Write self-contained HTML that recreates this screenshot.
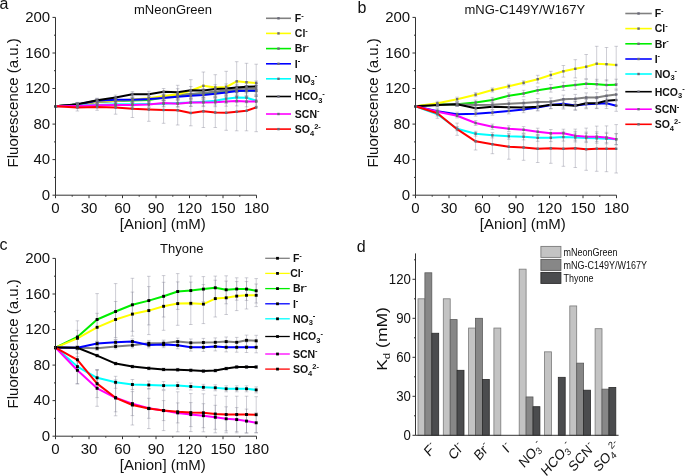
<!DOCTYPE html><html><head><meta charset="utf-8"><style>html,body{margin:0;padding:0;background:#fff;width:685px;height:476px;overflow:hidden}svg{display:block;will-change:transform}</style></head><body>
<svg width="685" height="476" viewBox="0 0 685 476">
<rect width="685" height="476" fill="#fff"/>
<text x="-0.5" y="8.8" font-size="16" font-family="Liberation Sans, sans-serif" fill="#111">a</text>
<text x="357.5" y="12.9" font-size="16" font-family="Liberation Sans, sans-serif" fill="#111">b</text>
<text x="-0.5" y="249.7" font-size="16" font-family="Liberation Sans, sans-serif" fill="#111">c</text>
<text x="356.8" y="251.7" font-size="16" font-family="Liberation Sans, sans-serif" fill="#111">d</text>
<text x="134" y="14" font-size="13" font-family="Liberation Sans, sans-serif" fill="#111">mNeonGreen</text>
<text x="464.5" y="14.3" font-size="13" font-family="Liberation Sans, sans-serif" fill="#111">mNG-C149Y/W167Y</text>
<text x="160" y="253.3" font-size="13" font-family="Liberation Sans, sans-serif" fill="#111">Thyone</text>
<g stroke="#77778a" stroke-opacity="0.36" stroke-width="1" fill="none">
<path d="M77.4 102.7V106.3M75.6 102.7h3.6M75.6 106.3h3.6"/>
<path d="M97.1 99.9V104.1M95.3 99.9h3.6M95.3 104.1h3.6"/>
<path d="M115.6 98.6V103.4M113.8 98.6h3.6M113.8 103.4h3.6"/>
<path d="M132.4 97.4V102.6M130.6 97.4h3.6M130.6 102.6h3.6"/>
<path d="M148.8 96.1V101.9M147.0 96.1h3.6M147.0 101.9h3.6"/>
<path d="M163.6 93.8V100.2M161.8 93.8h3.6M161.8 100.2h3.6"/>
<path d="M177.7 91.5V98.5M175.9 91.5h3.6M175.9 98.5h3.6"/>
<path d="M190.8 90.2V97.8M189.0 90.2h3.6M189.0 97.8h3.6"/>
<path d="M203.4 88.9V97.1M201.6 88.9h3.6M201.6 97.1h3.6"/>
<path d="M215.3 87.1V95.9M213.5 87.1h3.6M213.5 95.9h3.6"/>
<path d="M226.2 85.9V95.1M224.4 85.9h3.6M224.4 95.1h3.6"/>
<path d="M236.7 84.3V94.1M234.9 84.3h3.6M234.9 94.1h3.6"/>
<path d="M246.5 83.4V93.8M244.7 83.4h3.6M244.7 93.8h3.6"/>
<path d="M256.2 83.3V94.3M254.4 83.3h3.6M254.4 94.3h3.6"/>
<path d="M77.4 102.5V106.5M75.6 102.5h3.6M75.6 106.5h3.6"/>
<path d="M97.1 98.7V104.3M95.3 98.7h3.6M95.3 104.3h3.6"/>
<path d="M115.6 97.2V103.8M113.8 97.2h3.6M113.8 103.8h3.6"/>
<path d="M132.4 93.0V106.0M130.6 93.0h3.6M130.6 106.0h3.6"/>
<path d="M148.8 93.3V103.3M147.0 93.3h3.6M147.0 103.3h3.6"/>
<path d="M163.6 91.7V100.3M161.8 91.7h3.6M161.8 100.3h3.6"/>
<path d="M177.7 85.3V103.1M175.9 85.3h3.6M175.9 103.1h3.6"/>
<path d="M190.8 79.7V101.9M189.0 79.7h3.6M189.0 101.9h3.6"/>
<path d="M203.4 72.0V99.6M201.6 72.0h3.6M201.6 99.6h3.6"/>
<path d="M215.3 74.7V100.3M213.5 74.7h3.6M213.5 100.3h3.6"/>
<path d="M226.2 71.3V102.7M224.4 71.3h3.6M224.4 102.7h3.6"/>
<path d="M236.7 61.7V100.9M234.9 61.7h3.6M234.9 100.9h3.6"/>
<path d="M246.5 63.3V101.1M244.7 63.3h3.6M244.7 101.1h3.6"/>
<path d="M256.2 64.2V101.8M254.4 64.2h3.6M254.4 101.8h3.6"/>
<path d="M77.4 102.7V106.3M75.6 102.7h3.6M75.6 106.3h3.6"/>
<path d="M97.1 99.6V103.8M95.3 99.6h3.6M95.3 103.8h3.6"/>
<path d="M115.6 98.6V103.4M113.8 98.6h3.6M113.8 103.4h3.6"/>
<path d="M132.4 97.9V103.1M130.6 97.9h3.6M130.6 103.1h3.6"/>
<path d="M148.8 97.1V102.9M147.0 97.1h3.6M147.0 102.9h3.6"/>
<path d="M163.6 94.3V100.7M161.8 94.3h3.6M161.8 100.7h3.6"/>
<path d="M177.7 91.8V98.8M175.9 91.8h3.6M175.9 98.8h3.6"/>
<path d="M190.8 90.4V98.0M189.0 90.4h3.6M189.0 98.0h3.6"/>
<path d="M203.4 89.2V97.4M201.6 89.2h3.6M201.6 97.4h3.6"/>
<path d="M215.3 88.0V96.8M213.5 88.0h3.6M213.5 96.8h3.6"/>
<path d="M226.2 86.8V96.0M224.4 86.8h3.6M224.4 96.0h3.6"/>
<path d="M236.7 86.1V95.9M234.9 86.1h3.6M234.9 95.9h3.6"/>
<path d="M246.5 85.6V96.0M244.7 85.6h3.6M244.7 96.0h3.6"/>
<path d="M256.2 85.3V96.3M254.4 85.3h3.6M254.4 96.3h3.6"/>
<path d="M77.4 102.7V106.3M75.6 102.7h3.6M75.6 106.3h3.6"/>
<path d="M97.1 98.7V102.9M95.3 98.7h3.6M95.3 102.9h3.6"/>
<path d="M115.6 97.3V102.1M113.8 97.3h3.6M113.8 102.1h3.6"/>
<path d="M132.4 97.1V102.3M130.6 97.1h3.6M130.6 102.3h3.6"/>
<path d="M148.8 96.1V101.9M147.0 96.1h3.6M147.0 101.9h3.6"/>
<path d="M163.6 94.8V101.2M161.8 94.8h3.6M161.8 101.2h3.6"/>
<path d="M177.7 93.2V100.2M175.9 93.2h3.6M175.9 100.2h3.6"/>
<path d="M190.8 92.0V99.6M189.0 92.0h3.6M189.0 99.6h3.6"/>
<path d="M203.4 90.9V99.1M201.6 90.9h3.6M201.6 99.1h3.6"/>
<path d="M215.3 89.4V98.1M213.5 89.4h3.6M213.5 98.1h3.6"/>
<path d="M226.2 87.8V97.0M224.4 87.8h3.6M224.4 97.0h3.6"/>
<path d="M236.7 86.2V96.0M234.9 86.2h3.6M234.9 96.0h3.6"/>
<path d="M246.5 85.5V95.9M244.7 85.5h3.6M244.7 95.9h3.6"/>
<path d="M256.2 85.3V96.3M254.4 85.3h3.6M254.4 96.3h3.6"/>
<path d="M77.4 103.7V107.3M75.6 103.7h3.6M75.6 107.3h3.6"/>
<path d="M97.1 102.9V107.1M95.3 102.9h3.6M95.3 107.1h3.6"/>
<path d="M115.6 101.8V106.6M113.8 101.8h3.6M113.8 106.6h3.6"/>
<path d="M132.4 101.6V106.8M130.6 101.6h3.6M130.6 106.8h3.6"/>
<path d="M148.8 101.1V106.9M147.0 101.1h3.6M147.0 106.9h3.6"/>
<path d="M163.6 100.5V106.9M161.8 100.5h3.6M161.8 106.9h3.6"/>
<path d="M177.7 99.5V106.5M175.9 99.5h3.6M175.9 106.5h3.6"/>
<path d="M190.8 98.7V106.3M189.0 98.7h3.6M189.0 106.3h3.6"/>
<path d="M203.4 97.6V105.8M201.6 97.6h3.6M201.6 105.8h3.6"/>
<path d="M215.3 96.3V105.1M213.5 96.3h3.6M213.5 105.1h3.6"/>
<path d="M226.2 94.1V103.3M224.4 94.1h3.6M224.4 103.3h3.6"/>
<path d="M236.7 92.5V102.3M234.9 92.5h3.6M234.9 102.3h3.6"/>
<path d="M246.5 92.5V102.9M244.7 92.5h3.6M244.7 102.9h3.6"/>
<path d="M256.2 95.2V106.2M254.4 95.2h3.6M254.4 106.2h3.6"/>
<path d="M77.4 102.4V106.0M75.6 102.4h3.6M75.6 106.0h3.6"/>
<path d="M97.1 98.2V102.4M95.3 98.2h3.6M95.3 102.4h3.6"/>
<path d="M115.6 95.1V99.9M113.8 95.1h3.6M113.8 99.9h3.6"/>
<path d="M132.4 91.6V96.8M130.6 91.6h3.6M130.6 96.8h3.6"/>
<path d="M148.8 91.3V97.1M147.0 91.3h3.6M147.0 97.1h3.6"/>
<path d="M163.6 88.5V94.9M161.8 88.5h3.6M161.8 94.9h3.6"/>
<path d="M177.7 88.7V95.7M175.9 88.7h3.6M175.9 95.7h3.6"/>
<path d="M190.8 86.5V94.1M189.0 86.5h3.6M189.0 94.1h3.6"/>
<path d="M203.4 86.4V94.6M201.6 86.4h3.6M201.6 94.6h3.6"/>
<path d="M215.3 84.7V93.5M213.5 84.7h3.6M213.5 93.5h3.6"/>
<path d="M226.2 83.9V93.1M224.4 83.9h3.6M224.4 93.1h3.6"/>
<path d="M236.7 82.6V92.4M234.9 82.6h3.6M234.9 92.4h3.6"/>
<path d="M246.5 81.5V91.9M244.7 81.5h3.6M244.7 91.9h3.6"/>
<path d="M256.2 81.0V92.0M254.4 81.0h3.6M254.4 92.0h3.6"/>
<path d="M77.4 104.2V107.8M75.6 104.2h3.6M75.6 107.8h3.6"/>
<path d="M97.1 103.2V107.4M95.3 103.2h3.6M95.3 107.4h3.6"/>
<path d="M115.6 102.6V107.4M113.8 102.6h3.6M113.8 107.4h3.6"/>
<path d="M132.4 102.4V107.6M130.6 102.4h3.6M130.6 107.6h3.6"/>
<path d="M148.8 101.6V107.4M147.0 101.6h3.6M147.0 107.4h3.6"/>
<path d="M163.6 99.8V106.2M161.8 99.8h3.6M161.8 106.2h3.6"/>
<path d="M177.7 100.2V107.2M175.9 100.2h3.6M175.9 107.2h3.6"/>
<path d="M190.8 98.7V106.3M189.0 98.7h3.6M189.0 106.3h3.6"/>
<path d="M203.4 98.4V106.6M201.6 98.4h3.6M201.6 106.6h3.6"/>
<path d="M215.3 97.9V106.7M213.5 97.9h3.6M213.5 106.7h3.6"/>
<path d="M226.2 97.0V106.2M224.4 97.0h3.6M224.4 106.2h3.6"/>
<path d="M236.7 96.1V105.9M234.9 96.1h3.6M234.9 105.9h3.6"/>
<path d="M246.5 96.4V106.8M244.7 96.4h3.6M244.7 106.8h3.6"/>
<path d="M256.2 96.1V107.1M254.4 96.1h3.6M254.4 107.1h3.6"/>
<path d="M77.4 104.0V111.0M75.6 104.0h3.6M75.6 111.0h3.6"/>
<path d="M97.1 103.7V110.3M95.3 103.7h3.6M95.3 110.3h3.6"/>
<path d="M115.6 100.8V114.2M113.8 100.8h3.6M113.8 114.2h3.6"/>
<path d="M132.4 99.9V117.5M130.6 99.9h3.6M130.6 117.5h3.6"/>
<path d="M148.8 97.7V121.3M147.0 97.7h3.6M147.0 121.3h3.6"/>
<path d="M163.6 96.7V123.3M161.8 96.7h3.6M161.8 123.3h3.6"/>
<path d="M177.7 95.6V125.0M175.9 95.6h3.6M175.9 125.0h3.6"/>
<path d="M190.8 100.2V125.8M189.0 100.2h3.6M189.0 125.8h3.6"/>
<path d="M203.4 95.1V127.5M201.6 95.1h3.6M201.6 127.5h3.6"/>
<path d="M215.3 97.5V127.5M213.5 97.5h3.6M213.5 127.5h3.6"/>
<path d="M226.2 95.3V130.3M224.4 95.3h3.6M224.4 130.3h3.6"/>
<path d="M236.7 92.6V130.8M234.9 92.6h3.6M234.9 130.8h3.6"/>
<path d="M246.5 90.8V130.8M244.7 90.8h3.6M244.7 130.8h3.6"/>
<path d="M256.2 83.3V131.7M254.4 83.3h3.6M254.4 131.7h3.6"/>
</g>
<polyline points="55.5,106.3 77.4,104.5 97.1,101.7 115.6,101.0 132.4,100.5 148.8,100.0 163.6,97.5 177.7,95.3 190.8,94.2 203.4,93.3 215.3,92.4 226.2,91.4 236.7,91.0 246.5,90.8 256.2,90.8" fill="none" stroke="#00ee00" stroke-width="2" stroke-linejoin="round"/>
<polyline points="55.5,106.3 77.4,104.5 97.1,102.0 115.6,101.0 132.4,100.0 148.8,99.0 163.6,97.0 177.7,95.0 190.8,94.0 203.4,93.0 215.3,91.5 226.2,90.5 236.7,89.2 246.5,88.6 256.2,88.8" fill="none" stroke="#808080" stroke-width="2" stroke-linejoin="round"/>
<polyline points="55.5,106.3 77.4,104.5 97.1,101.5 115.6,100.5 132.4,99.5 148.8,98.3 163.6,96.0 177.7,94.2 190.8,90.8 203.4,85.8 215.3,87.5 226.2,87.0 236.7,81.3 246.5,82.2 256.2,83.0" fill="none" stroke="#ffff00" stroke-width="2" stroke-linejoin="round"/>
<polyline points="55.5,106.3 77.4,104.5 97.1,100.8 115.6,99.7 132.4,99.7 148.8,99.0 163.6,98.0 177.7,96.7 190.8,95.8 203.4,95.0 215.3,93.8 226.2,92.4 236.7,91.1 246.5,90.7 256.2,90.8" fill="none" stroke="#0000ff" stroke-width="2" stroke-linejoin="round"/>
<polyline points="55.5,106.3 77.4,105.5 97.1,105.0 115.6,104.2 132.4,104.2 148.8,104.0 163.6,103.7 177.7,103.0 190.8,102.5 203.4,101.7 215.3,100.7 226.2,98.7 236.7,97.4 246.5,97.7 256.2,100.7" fill="none" stroke="#00ffff" stroke-width="2" stroke-linejoin="round"/>
<polyline points="55.5,106.3 77.4,104.2 97.1,100.3 115.6,97.5 132.4,94.2 148.8,94.2 163.6,91.7 177.7,92.2 190.8,90.3 203.4,90.5 215.3,89.1 226.2,88.5 236.7,87.5 246.5,86.7 256.2,86.5" fill="none" stroke="#000000" stroke-width="2" stroke-linejoin="round"/>
<polyline points="55.5,106.3 77.4,106.0 97.1,105.3 115.6,105.0 132.4,105.0 148.8,104.5 163.6,103.0 177.7,103.7 190.8,102.5 203.4,102.5 215.3,102.3 226.2,101.6 236.7,101.0 246.5,101.6 256.2,101.6" fill="none" stroke="#ff00ff" stroke-width="2" stroke-linejoin="round"/>
<polyline points="55.5,106.3 77.4,107.5 97.1,107.0 115.6,107.5 132.4,108.7 148.8,109.5 163.6,110.0 177.7,110.3 190.8,113.0 203.4,111.3 215.3,112.5 226.2,112.8 236.7,111.7 246.5,110.8 256.2,107.5" fill="none" stroke="#ff0000" stroke-width="2" stroke-linejoin="round"/>
<g fill="#6a6a78">
<rect x="54.30" y="105.10" width="2.4" height="2.4"/>
<rect x="76.20" y="103.30" width="2.4" height="2.4"/>
<rect x="95.90" y="100.80" width="2.4" height="2.4"/>
<rect x="114.40" y="99.80" width="2.4" height="2.4"/>
<rect x="131.20" y="98.80" width="2.4" height="2.4"/>
<rect x="147.60" y="97.80" width="2.4" height="2.4"/>
<rect x="162.40" y="95.80" width="2.4" height="2.4"/>
<rect x="176.50" y="93.80" width="2.4" height="2.4"/>
<rect x="189.60" y="92.80" width="2.4" height="2.4"/>
<rect x="202.20" y="91.80" width="2.4" height="2.4"/>
<rect x="214.10" y="90.30" width="2.4" height="2.4"/>
<rect x="225.00" y="89.30" width="2.4" height="2.4"/>
<rect x="235.50" y="88.00" width="2.4" height="2.4"/>
<rect x="245.30" y="87.40" width="2.4" height="2.4"/>
<rect x="255.00" y="87.60" width="2.4" height="2.4"/>
<rect x="54.30" y="105.10" width="2.4" height="2.4"/>
<rect x="76.20" y="103.30" width="2.4" height="2.4"/>
<rect x="95.90" y="100.30" width="2.4" height="2.4"/>
<rect x="114.40" y="99.30" width="2.4" height="2.4"/>
<rect x="131.20" y="98.30" width="2.4" height="2.4"/>
<rect x="147.60" y="97.10" width="2.4" height="2.4"/>
<rect x="162.40" y="94.80" width="2.4" height="2.4"/>
<rect x="176.50" y="93.00" width="2.4" height="2.4"/>
<rect x="189.60" y="89.60" width="2.4" height="2.4"/>
<rect x="202.20" y="84.60" width="2.4" height="2.4"/>
<rect x="214.10" y="86.30" width="2.4" height="2.4"/>
<rect x="225.00" y="85.80" width="2.4" height="2.4"/>
<rect x="235.50" y="80.10" width="2.4" height="2.4"/>
<rect x="245.30" y="81.00" width="2.4" height="2.4"/>
<rect x="255.00" y="81.80" width="2.4" height="2.4"/>
<rect x="54.30" y="105.10" width="2.4" height="2.4"/>
<rect x="76.20" y="103.30" width="2.4" height="2.4"/>
<rect x="95.90" y="100.50" width="2.4" height="2.4"/>
<rect x="114.40" y="99.80" width="2.4" height="2.4"/>
<rect x="131.20" y="99.30" width="2.4" height="2.4"/>
<rect x="147.60" y="98.80" width="2.4" height="2.4"/>
<rect x="162.40" y="96.30" width="2.4" height="2.4"/>
<rect x="176.50" y="94.10" width="2.4" height="2.4"/>
<rect x="189.60" y="93.00" width="2.4" height="2.4"/>
<rect x="202.20" y="92.10" width="2.4" height="2.4"/>
<rect x="214.10" y="91.20" width="2.4" height="2.4"/>
<rect x="225.00" y="90.20" width="2.4" height="2.4"/>
<rect x="235.50" y="89.80" width="2.4" height="2.4"/>
<rect x="245.30" y="89.60" width="2.4" height="2.4"/>
<rect x="255.00" y="89.60" width="2.4" height="2.4"/>
<rect x="54.30" y="105.10" width="2.4" height="2.4"/>
<rect x="76.20" y="103.30" width="2.4" height="2.4"/>
<rect x="95.90" y="99.60" width="2.4" height="2.4"/>
<rect x="114.40" y="98.50" width="2.4" height="2.4"/>
<rect x="131.20" y="98.50" width="2.4" height="2.4"/>
<rect x="147.60" y="97.80" width="2.4" height="2.4"/>
<rect x="162.40" y="96.80" width="2.4" height="2.4"/>
<rect x="176.50" y="95.50" width="2.4" height="2.4"/>
<rect x="189.60" y="94.60" width="2.4" height="2.4"/>
<rect x="202.20" y="93.80" width="2.4" height="2.4"/>
<rect x="214.10" y="92.55" width="2.4" height="2.4"/>
<rect x="225.00" y="91.20" width="2.4" height="2.4"/>
<rect x="235.50" y="89.90" width="2.4" height="2.4"/>
<rect x="245.30" y="89.50" width="2.4" height="2.4"/>
<rect x="255.00" y="89.60" width="2.4" height="2.4"/>
<rect x="54.30" y="105.10" width="2.4" height="2.4"/>
<rect x="76.20" y="104.30" width="2.4" height="2.4"/>
<rect x="95.90" y="103.80" width="2.4" height="2.4"/>
<rect x="114.40" y="103.00" width="2.4" height="2.4"/>
<rect x="131.20" y="103.00" width="2.4" height="2.4"/>
<rect x="147.60" y="102.80" width="2.4" height="2.4"/>
<rect x="162.40" y="102.50" width="2.4" height="2.4"/>
<rect x="176.50" y="101.80" width="2.4" height="2.4"/>
<rect x="189.60" y="101.30" width="2.4" height="2.4"/>
<rect x="202.20" y="100.50" width="2.4" height="2.4"/>
<rect x="214.10" y="99.50" width="2.4" height="2.4"/>
<rect x="225.00" y="97.50" width="2.4" height="2.4"/>
<rect x="235.50" y="96.20" width="2.4" height="2.4"/>
<rect x="245.30" y="96.50" width="2.4" height="2.4"/>
<rect x="255.00" y="99.50" width="2.4" height="2.4"/>
<rect x="54.30" y="105.10" width="2.4" height="2.4"/>
<rect x="76.20" y="103.00" width="2.4" height="2.4"/>
<rect x="95.90" y="99.10" width="2.4" height="2.4"/>
<rect x="114.40" y="96.30" width="2.4" height="2.4"/>
<rect x="131.20" y="93.00" width="2.4" height="2.4"/>
<rect x="147.60" y="93.00" width="2.4" height="2.4"/>
<rect x="162.40" y="90.50" width="2.4" height="2.4"/>
<rect x="176.50" y="91.00" width="2.4" height="2.4"/>
<rect x="189.60" y="89.10" width="2.4" height="2.4"/>
<rect x="202.20" y="89.30" width="2.4" height="2.4"/>
<rect x="214.10" y="87.90" width="2.4" height="2.4"/>
<rect x="225.00" y="87.30" width="2.4" height="2.4"/>
<rect x="235.50" y="86.30" width="2.4" height="2.4"/>
<rect x="245.30" y="85.50" width="2.4" height="2.4"/>
<rect x="255.00" y="85.30" width="2.4" height="2.4"/>
<rect x="54.30" y="105.10" width="2.4" height="2.4"/>
<rect x="76.20" y="104.80" width="2.4" height="2.4"/>
<rect x="95.90" y="104.10" width="2.4" height="2.4"/>
<rect x="114.40" y="103.80" width="2.4" height="2.4"/>
<rect x="131.20" y="103.80" width="2.4" height="2.4"/>
<rect x="147.60" y="103.30" width="2.4" height="2.4"/>
<rect x="162.40" y="101.80" width="2.4" height="2.4"/>
<rect x="176.50" y="102.50" width="2.4" height="2.4"/>
<rect x="189.60" y="101.30" width="2.4" height="2.4"/>
<rect x="202.20" y="101.30" width="2.4" height="2.4"/>
<rect x="214.10" y="101.10" width="2.4" height="2.4"/>
<rect x="225.00" y="100.40" width="2.4" height="2.4"/>
<rect x="235.50" y="99.80" width="2.4" height="2.4"/>
<rect x="245.30" y="100.40" width="2.4" height="2.4"/>
<rect x="255.00" y="100.40" width="2.4" height="2.4"/>
<rect x="54.30" y="105.10" width="2.4" height="2.4"/>
<rect x="76.20" y="106.30" width="2.4" height="2.4"/>
<rect x="95.90" y="105.80" width="2.4" height="2.4"/>
<rect x="114.40" y="106.30" width="2.4" height="2.4"/>
<rect x="131.20" y="107.50" width="2.4" height="2.4"/>
<rect x="147.60" y="108.30" width="2.4" height="2.4"/>
<rect x="162.40" y="108.80" width="2.4" height="2.4"/>
<rect x="176.50" y="109.10" width="2.4" height="2.4"/>
<rect x="189.60" y="111.80" width="2.4" height="2.4"/>
<rect x="202.20" y="110.10" width="2.4" height="2.4"/>
<rect x="214.10" y="111.30" width="2.4" height="2.4"/>
<rect x="225.00" y="111.60" width="2.4" height="2.4"/>
<rect x="235.50" y="110.50" width="2.4" height="2.4"/>
<rect x="245.30" y="109.60" width="2.4" height="2.4"/>
<rect x="255.00" y="106.30" width="2.4" height="2.4"/>
</g>
<path d="M55.5 17.4V195.2H256.5" fill="none" stroke="#333" stroke-width="1"/>
<path d="M52.5 195.2H55.5 M54.0 177.4H55.5 M52.5 159.6H55.5 M54.0 141.9H55.5 M52.5 124.1H55.5 M54.0 106.3H55.5 M52.5 88.5H55.5 M54.0 70.7H55.5 M52.5 53.0H55.5 M54.0 35.2H55.5 M52.5 17.4H55.5 M55.5 195.2V198.2 M72.2 195.2V196.7 M89.0 195.2V198.2 M105.8 195.2V196.7 M122.5 195.2V198.2 M139.2 195.2V196.7 M156.0 195.2V198.2 M172.8 195.2V196.7 M189.5 195.2V198.2 M206.2 195.2V196.7 M223.0 195.2V198.2 M239.8 195.2V196.7 M256.5 195.2V198.2" stroke="#333" stroke-width="1"/>
<text transform="translate(50.2,199.8) scale(1,1)" text-anchor="end" font-size="15" font-family="Liberation Sans, sans-serif" fill="#111">0</text>
<text transform="translate(50.2,164.3) scale(1,1)" text-anchor="end" font-size="15" font-family="Liberation Sans, sans-serif" fill="#111">40</text>
<text transform="translate(50.2,128.7) scale(1,1)" text-anchor="end" font-size="15" font-family="Liberation Sans, sans-serif" fill="#111">80</text>
<text transform="translate(50.2,93.2) scale(1,1)" text-anchor="end" font-size="15" font-family="Liberation Sans, sans-serif" fill="#111">120</text>
<text transform="translate(50.2,57.6) scale(1,1)" text-anchor="end" font-size="15" font-family="Liberation Sans, sans-serif" fill="#111">160</text>
<text transform="translate(50.2,22.0) scale(1,1)" text-anchor="end" font-size="15" font-family="Liberation Sans, sans-serif" fill="#111">200</text>
<text transform="translate(55.5,212.8) scale(1,1)" text-anchor="middle" font-size="15" font-family="Liberation Sans, sans-serif" fill="#111">0</text>
<text transform="translate(89.0,212.8) scale(1,1)" text-anchor="middle" font-size="15" font-family="Liberation Sans, sans-serif" fill="#111">30</text>
<text transform="translate(122.5,212.8) scale(1,1)" text-anchor="middle" font-size="15" font-family="Liberation Sans, sans-serif" fill="#111">60</text>
<text transform="translate(156.0,212.8) scale(1,1)" text-anchor="middle" font-size="15" font-family="Liberation Sans, sans-serif" fill="#111">90</text>
<text transform="translate(189.5,212.8) scale(1,1)" text-anchor="middle" font-size="15" font-family="Liberation Sans, sans-serif" fill="#111">120</text>
<text transform="translate(223.0,212.8) scale(1,1)" text-anchor="middle" font-size="15" font-family="Liberation Sans, sans-serif" fill="#111">150</text>
<text transform="translate(256.5,212.8) scale(1,1)" text-anchor="middle" font-size="15" font-family="Liberation Sans, sans-serif" fill="#111">180</text>
<text x="162.8" y="228.8" text-anchor="middle" font-size="15" font-family="Liberation Sans, sans-serif" fill="#111">[Anion] (mM)</text>
<text transform="translate(17.6,102.8) rotate(-90)" text-anchor="middle" font-size="15" font-family="Liberation Sans, sans-serif" fill="#111">Fluorescence (a.u.)</text>
<path d="M266 18.3H291" stroke="#808080" stroke-width="1.6"/>
<rect x="277.30" y="17.10" width="2.4" height="2.4" fill="#6a6a78"/>
<text x="294.8" y="22.1" font-size="10.5" font-weight="bold" font-family="Liberation Sans, sans-serif" fill="#111">F<tspan font-size="7.5" dy="-4.4">-</tspan></text>
<path d="M266 33.4H291" stroke="#ffff00" stroke-width="1.6"/>
<rect x="277.30" y="32.20" width="2.4" height="2.4" fill="#6a6a78"/>
<text x="294.8" y="37.2" font-size="10.5" font-weight="bold" font-family="Liberation Sans, sans-serif" fill="#111">Cl<tspan font-size="7.5" dy="-4.4">-</tspan></text>
<path d="M266 48.6H291" stroke="#00ee00" stroke-width="1.6"/>
<rect x="277.30" y="47.40" width="2.4" height="2.4" fill="#6a6a78"/>
<text x="294.8" y="52.4" font-size="10.5" font-weight="bold" font-family="Liberation Sans, sans-serif" fill="#111">Br<tspan font-size="7.5" dy="-4.4">-</tspan></text>
<path d="M266 63.8H291" stroke="#0000ff" stroke-width="1.6"/>
<rect x="277.30" y="62.60" width="2.4" height="2.4" fill="#6a6a78"/>
<text x="294.8" y="67.6" font-size="10.5" font-weight="bold" font-family="Liberation Sans, sans-serif" fill="#111">I<tspan font-size="7.5" dy="-4.4">-</tspan></text>
<path d="M266 78.8H291" stroke="#00ffff" stroke-width="1.6"/>
<rect x="277.30" y="77.60" width="2.4" height="2.4" fill="#6a6a78"/>
<text x="294.8" y="82.6" font-size="10.5" font-weight="bold" font-family="Liberation Sans, sans-serif" fill="#111">NO<tspan font-size="7.5" dy="2.6">3</tspan><tspan font-size="7.5" dy="-7">-</tspan></text>
<path d="M266 96.5H291" stroke="#000000" stroke-width="1.6"/>
<rect x="277.30" y="95.30" width="2.4" height="2.4" fill="#6a6a78"/>
<text x="294.8" y="100.3" font-size="10.5" font-weight="bold" font-family="Liberation Sans, sans-serif" fill="#111">HCO<tspan font-size="7.5" dy="2.6">3</tspan><tspan font-size="7.5" dy="-7">-</tspan></text>
<path d="M266 114.0H291" stroke="#ff00ff" stroke-width="1.6"/>
<rect x="277.30" y="112.80" width="2.4" height="2.4" fill="#6a6a78"/>
<text x="294.8" y="117.8" font-size="10.5" font-weight="bold" font-family="Liberation Sans, sans-serif" fill="#111">SCN<tspan font-size="7.5" dy="-4.4">-</tspan></text>
<path d="M266 129.1H291" stroke="#ff0000" stroke-width="1.6"/>
<rect x="277.30" y="127.90" width="2.4" height="2.4" fill="#6a6a78"/>
<text x="294.8" y="132.9" font-size="10.5" font-weight="bold" font-family="Liberation Sans, sans-serif" fill="#111">SO<tspan font-size="7.5" dy="2.6">4</tspan><tspan font-size="7.5" dy="-7">2-</tspan></text>
<g stroke="#77778a" stroke-opacity="0.36" stroke-width="1" fill="none">
<path d="M437.4 103.2V106.8M435.6 103.2h3.6M435.6 106.8h3.6"/>
<path d="M457.1 102.1V106.3M455.3 102.1h3.6M455.3 106.3h3.6"/>
<path d="M475.6 102.6V107.4M473.8 102.6h3.6M473.8 107.4h3.6"/>
<path d="M492.4 102.1V107.3M490.6 102.1h3.6M490.6 107.3h3.6"/>
<path d="M508.8 100.8V106.6M507.0 100.8h3.6M507.0 106.6h3.6"/>
<path d="M523.6 99.7V106.1M521.8 99.7h3.6M521.8 106.1h3.6"/>
<path d="M537.7 98.5V105.5M535.9 98.5h3.6M535.9 105.5h3.6"/>
<path d="M550.8 97.9V105.5M549.0 97.9h3.6M549.0 105.5h3.6"/>
<path d="M563.4 95.1V103.3M561.6 95.1h3.6M561.6 103.3h3.6"/>
<path d="M575.3 94.4V103.2M573.5 94.4h3.6M573.5 103.2h3.6"/>
<path d="M586.2 92.9V102.1M584.4 92.9h3.6M584.4 102.1h3.6"/>
<path d="M596.7 92.6V102.4M594.9 92.6h3.6M594.9 102.4h3.6"/>
<path d="M606.5 90.6V101.0M604.7 90.6h3.6M604.7 101.0h3.6"/>
<path d="M616.2 89.0V100.0M614.4 89.0h3.6M614.4 100.0h3.6"/>
<path d="M437.4 101.3V105.3M435.6 101.3h3.6M435.6 105.3h3.6"/>
<path d="M457.1 97.2V101.2M455.3 97.2h3.6M455.3 101.2h3.6"/>
<path d="M475.6 92.7V96.7M473.8 92.7h3.6M473.8 96.7h3.6"/>
<path d="M492.4 88.0V92.0M490.6 88.0h3.6M490.6 92.0h3.6"/>
<path d="M508.8 84.3V88.3M507.0 84.3h3.6M507.0 88.3h3.6"/>
<path d="M523.6 80.8V84.8M521.8 80.8h3.6M521.8 84.8h3.6"/>
<path d="M537.7 75.3V83.1M535.9 75.3h3.6M535.9 83.1h3.6"/>
<path d="M550.8 71.3V78.7M549.0 71.3h3.6M549.0 78.7h3.6"/>
<path d="M563.4 65.5V77.1M561.6 65.5h3.6M561.6 77.1h3.6"/>
<path d="M575.3 59.7V77.9M573.5 59.7h3.6M573.5 77.9h3.6"/>
<path d="M586.2 54.5V78.9M584.4 54.5h3.6M584.4 78.9h3.6"/>
<path d="M596.7 46.3V81.1M594.9 46.3h3.6M594.9 81.1h3.6"/>
<path d="M606.5 47.5V80.9M604.7 47.5h3.6M604.7 80.9h3.6"/>
<path d="M616.2 46.3V83.7M614.4 46.3h3.6M614.4 83.7h3.6"/>
<path d="M437.4 102.7V106.3M435.6 102.7h3.6M435.6 106.3h3.6"/>
<path d="M457.1 102.1V106.3M455.3 102.1h3.6M455.3 106.3h3.6"/>
<path d="M475.6 100.1V104.9M473.8 100.1h3.6M473.8 104.9h3.6"/>
<path d="M492.4 97.4V102.6M490.6 97.4h3.6M490.6 102.6h3.6"/>
<path d="M508.8 92.9V98.7M507.0 92.9h3.6M507.0 98.7h3.6"/>
<path d="M523.6 90.3V96.7M521.8 90.3h3.6M521.8 96.7h3.6"/>
<path d="M537.7 86.8V93.8M535.9 86.8h3.6M535.9 93.8h3.6"/>
<path d="M550.8 84.5V92.1M549.0 84.5h3.6M549.0 92.1h3.6"/>
<path d="M563.4 82.2V90.4M561.6 82.2h3.6M561.6 90.4h3.6"/>
<path d="M575.3 80.6V89.4M573.5 80.6h3.6M573.5 89.4h3.6"/>
<path d="M586.2 79.2V88.4M584.4 79.2h3.6M584.4 88.4h3.6"/>
<path d="M596.7 79.3V89.1M594.9 79.3h3.6M594.9 89.1h3.6"/>
<path d="M606.5 79.8V90.2M604.7 79.8h3.6M604.7 90.2h3.6"/>
<path d="M616.2 79.2V90.2M614.4 79.2h3.6M614.4 90.2h3.6"/>
<path d="M437.4 109.4V113.0M435.6 109.4h3.6M435.6 113.0h3.6"/>
<path d="M457.1 112.2V116.4M455.3 112.2h3.6M455.3 116.4h3.6"/>
<path d="M475.6 111.3V116.1M473.8 111.3h3.6M473.8 116.1h3.6"/>
<path d="M492.4 110.0V115.2M490.6 110.0h3.6M490.6 115.2h3.6"/>
<path d="M508.8 108.1V113.9M507.0 108.1h3.6M507.0 113.9h3.6"/>
<path d="M523.6 106.3V112.7M521.8 106.3h3.6M521.8 112.7h3.6"/>
<path d="M537.7 104.0V111.0M535.9 104.0h3.6M535.9 111.0h3.6"/>
<path d="M550.8 101.2V108.8M549.0 101.2h3.6M549.0 108.8h3.6"/>
<path d="M563.4 99.7V107.9M561.6 99.7h3.6M561.6 107.9h3.6"/>
<path d="M575.3 101.1V109.9M573.5 101.1h3.6M573.5 109.9h3.6"/>
<path d="M586.2 99.6V108.8M584.4 99.6h3.6M584.4 108.8h3.6"/>
<path d="M596.7 98.8V108.6M594.9 98.8h3.6M594.9 108.6h3.6"/>
<path d="M606.5 98.1V108.5M604.7 98.1h3.6M604.7 108.5h3.6"/>
<path d="M616.2 100.3V111.3M614.4 100.3h3.6M614.4 111.3h3.6"/>
<path d="M437.4 112.4V116.0M435.6 112.4h3.6M435.6 116.0h3.6"/>
<path d="M457.1 126.6V130.8M455.3 126.6h3.6M455.3 130.8h3.6"/>
<path d="M475.6 131.3V136.1M473.8 131.3h3.6M473.8 136.1h3.6"/>
<path d="M492.4 132.7V137.9M490.6 132.7h3.6M490.6 137.9h3.6"/>
<path d="M508.8 133.4V139.2M507.0 133.4h3.6M507.0 139.2h3.6"/>
<path d="M523.6 133.5V139.9M521.8 133.5h3.6M521.8 139.9h3.6"/>
<path d="M537.7 134.3V141.3M535.9 134.3h3.6M535.9 141.3h3.6"/>
<path d="M550.8 134.0V141.6M549.0 134.0h3.6M549.0 141.6h3.6"/>
<path d="M563.4 132.9V141.1M561.6 132.9h3.6M561.6 141.1h3.6"/>
<path d="M575.3 133.1V141.9M573.5 133.1h3.6M573.5 141.9h3.6"/>
<path d="M586.2 133.4V142.6M584.4 133.4h3.6M584.4 142.6h3.6"/>
<path d="M596.7 133.4V143.2M594.9 133.4h3.6M594.9 143.2h3.6"/>
<path d="M606.5 133.5V143.9M604.7 133.5h3.6M604.7 143.9h3.6"/>
<path d="M616.2 133.7V144.7M614.4 133.7h3.6M614.4 144.7h3.6"/>
<path d="M437.4 103.2V106.8M435.6 103.2h3.6M435.6 106.8h3.6"/>
<path d="M457.1 102.1V106.3M455.3 102.1h3.6M455.3 106.3h3.6"/>
<path d="M475.6 105.9V110.7M473.8 105.9h3.6M473.8 110.7h3.6"/>
<path d="M492.4 104.1V109.3M490.6 104.1h3.6M490.6 109.3h3.6"/>
<path d="M508.8 104.3V110.1M507.0 104.3h3.6M507.0 110.1h3.6"/>
<path d="M523.6 104.3V110.7M521.8 104.3h3.6M521.8 110.7h3.6"/>
<path d="M537.7 103.2V110.2M535.9 103.2h3.6M535.9 110.2h3.6"/>
<path d="M550.8 100.9V108.5M549.0 100.9h3.6M549.0 108.5h3.6"/>
<path d="M563.4 100.9V109.1M561.6 100.9h3.6M561.6 109.1h3.6"/>
<path d="M575.3 101.4V110.2M573.5 101.4h3.6M573.5 110.2h3.6"/>
<path d="M586.2 98.7V107.9M584.4 98.7h3.6M584.4 107.9h3.6"/>
<path d="M596.7 98.4V108.2M594.9 98.4h3.6M594.9 108.2h3.6"/>
<path d="M606.5 95.6V106.0M604.7 95.6h3.6M604.7 106.0h3.6"/>
<path d="M616.2 94.5V105.5M614.4 94.5h3.6M614.4 105.5h3.6"/>
<path d="M437.4 109.9V113.5M435.6 109.9h3.6M435.6 113.5h3.6"/>
<path d="M457.1 113.7V117.9M455.3 113.7h3.6M455.3 117.9h3.6"/>
<path d="M475.6 120.6V125.4M473.8 120.6h3.6M473.8 125.4h3.6"/>
<path d="M492.4 124.1V129.3M490.6 124.1h3.6M490.6 129.3h3.6"/>
<path d="M508.8 125.8V131.6M507.0 125.8h3.6M507.0 131.6h3.6"/>
<path d="M523.6 126.6V133.0M521.8 126.6h3.6M521.8 133.0h3.6"/>
<path d="M537.7 128.2V135.2M535.9 128.2h3.6M535.9 135.2h3.6"/>
<path d="M550.8 129.5V137.1M549.0 129.5h3.6M549.0 137.1h3.6"/>
<path d="M563.4 129.2V137.4M561.6 129.2h3.6M561.6 137.4h3.6"/>
<path d="M575.3 131.4V140.2M573.5 131.4h3.6M573.5 140.2h3.6"/>
<path d="M586.2 132.1V141.3M584.4 132.1h3.6M584.4 141.3h3.6"/>
<path d="M596.7 131.8V141.6M594.9 131.8h3.6M594.9 141.6h3.6"/>
<path d="M606.5 132.3V142.7M604.7 132.3h3.6M604.7 142.7h3.6"/>
<path d="M616.2 133.7V144.7M614.4 133.7h3.6M614.4 144.7h3.6"/>
<path d="M437.4 108.3V118.3M435.6 108.3h3.6M435.6 118.3h3.6"/>
<path d="M457.1 123.1V135.3M455.3 123.1h3.6M455.3 135.3h3.6"/>
<path d="M475.6 132.6V150.0M473.8 132.6h3.6M473.8 150.0h3.6"/>
<path d="M492.4 134.7V153.7M490.6 134.7h3.6M490.6 153.7h3.6"/>
<path d="M508.8 134.2V159.2M507.0 134.2h3.6M507.0 159.2h3.6"/>
<path d="M523.6 134.7V160.3M521.8 134.7h3.6M521.8 160.3h3.6"/>
<path d="M537.7 135.1V162.5M535.9 135.1h3.6M535.9 162.5h3.6"/>
<path d="M550.8 133.3V163.3M549.0 133.3h3.6M549.0 163.3h3.6"/>
<path d="M563.4 131.3V166.3M561.6 131.3h3.6M561.6 166.3h3.6"/>
<path d="M575.3 129.1V167.5M573.5 129.1h3.6M573.5 167.5h3.6"/>
<path d="M586.2 128.1V170.3M584.4 128.1h3.6M584.4 170.3h3.6"/>
<path d="M596.7 126.1V171.3M594.9 126.1h3.6M594.9 171.3h3.6"/>
<path d="M606.5 125.9V171.7M604.7 125.9h3.6M604.7 171.7h3.6"/>
<path d="M616.2 124.6V173.0M614.4 124.6h3.6M614.4 173.0h3.6"/>
</g>
<polyline points="415.5,106.3 437.4,104.5 457.1,104.2 475.6,102.5 492.4,100.0 508.8,95.8 523.6,93.5 537.7,90.3 550.8,88.3 563.4,86.3 575.3,85.0 586.2,83.8 596.7,84.2 606.5,85.0 616.2,84.7" fill="none" stroke="#00ee00" stroke-width="2" stroke-linejoin="round"/>
<polyline points="415.5,106.3 437.4,105.0 457.1,104.2 475.6,105.0 492.4,104.7 508.8,103.7 523.6,102.9 537.7,102.0 550.8,101.7 563.4,99.2 575.3,98.8 586.2,97.5 596.7,97.5 606.5,95.8 616.2,94.5" fill="none" stroke="#808080" stroke-width="2" stroke-linejoin="round"/>
<polyline points="415.5,106.3 437.4,103.3 457.1,99.2 475.6,94.7 492.4,90.0 508.8,86.3 523.6,82.8 537.7,79.2 550.8,75.0 563.4,71.3 575.3,68.8 586.2,66.7 596.7,63.7 606.5,64.2 616.2,65.0" fill="none" stroke="#ffff00" stroke-width="2" stroke-linejoin="round"/>
<polyline points="415.5,106.3 437.4,111.2 457.1,114.3 475.6,113.7 492.4,112.6 508.8,111.0 523.6,109.5 537.7,107.5 550.8,105.0 563.4,103.8 575.3,105.5 586.2,104.2 596.7,103.7 606.5,103.3 616.2,105.8" fill="none" stroke="#0000ff" stroke-width="2" stroke-linejoin="round"/>
<polyline points="415.5,106.3 437.4,114.2 457.1,128.7 475.6,133.7 492.4,135.3 508.8,136.3 523.6,136.7 537.7,137.8 550.8,137.8 563.4,137.0 575.3,137.5 586.2,138.0 596.7,138.3 606.5,138.7 616.2,139.2" fill="none" stroke="#00ffff" stroke-width="2" stroke-linejoin="round"/>
<polyline points="415.5,106.3 437.4,105.0 457.1,104.2 475.6,108.3 492.4,106.7 508.8,107.2 523.6,107.5 537.7,106.7 550.8,104.7 563.4,105.0 575.3,105.8 586.2,103.3 596.7,103.3 606.5,100.8 616.2,100.0" fill="none" stroke="#000000" stroke-width="2" stroke-linejoin="round"/>
<polyline points="415.5,106.3 437.4,111.7 457.1,115.8 475.6,123.0 492.4,126.7 508.8,128.7 523.6,129.8 537.7,131.7 550.8,133.3 563.4,133.3 575.3,135.8 586.2,136.7 596.7,136.7 606.5,137.5 616.2,139.2" fill="none" stroke="#ff00ff" stroke-width="2" stroke-linejoin="round"/>
<polyline points="415.5,106.3 437.4,113.3 457.1,129.2 475.6,141.3 492.4,144.2 508.8,146.7 523.6,147.5 537.7,148.8 550.8,148.3 563.4,148.8 575.3,148.3 586.2,149.2 596.7,148.7 606.5,148.8 616.2,148.8" fill="none" stroke="#ff0000" stroke-width="2" stroke-linejoin="round"/>
<g fill="#6a6a78">
<rect x="414.30" y="105.10" width="2.4" height="2.4"/>
<rect x="436.20" y="103.80" width="2.4" height="2.4"/>
<rect x="455.90" y="103.00" width="2.4" height="2.4"/>
<rect x="474.40" y="103.80" width="2.4" height="2.4"/>
<rect x="491.20" y="103.50" width="2.4" height="2.4"/>
<rect x="507.60" y="102.50" width="2.4" height="2.4"/>
<rect x="522.40" y="101.70" width="2.4" height="2.4"/>
<rect x="536.50" y="100.80" width="2.4" height="2.4"/>
<rect x="549.60" y="100.50" width="2.4" height="2.4"/>
<rect x="562.20" y="98.00" width="2.4" height="2.4"/>
<rect x="574.10" y="97.60" width="2.4" height="2.4"/>
<rect x="585.00" y="96.30" width="2.4" height="2.4"/>
<rect x="595.50" y="96.30" width="2.4" height="2.4"/>
<rect x="605.30" y="94.60" width="2.4" height="2.4"/>
<rect x="615.00" y="93.30" width="2.4" height="2.4"/>
<rect x="414.30" y="105.10" width="2.4" height="2.4"/>
<rect x="436.20" y="102.10" width="2.4" height="2.4"/>
<rect x="455.90" y="98.00" width="2.4" height="2.4"/>
<rect x="474.40" y="93.50" width="2.4" height="2.4"/>
<rect x="491.20" y="88.80" width="2.4" height="2.4"/>
<rect x="507.60" y="85.10" width="2.4" height="2.4"/>
<rect x="522.40" y="81.60" width="2.4" height="2.4"/>
<rect x="536.50" y="78.00" width="2.4" height="2.4"/>
<rect x="549.60" y="73.80" width="2.4" height="2.4"/>
<rect x="562.20" y="70.10" width="2.4" height="2.4"/>
<rect x="574.10" y="67.60" width="2.4" height="2.4"/>
<rect x="585.00" y="65.50" width="2.4" height="2.4"/>
<rect x="595.50" y="62.50" width="2.4" height="2.4"/>
<rect x="605.30" y="63.00" width="2.4" height="2.4"/>
<rect x="615.00" y="63.80" width="2.4" height="2.4"/>
<rect x="414.30" y="105.10" width="2.4" height="2.4"/>
<rect x="436.20" y="103.30" width="2.4" height="2.4"/>
<rect x="455.90" y="103.00" width="2.4" height="2.4"/>
<rect x="474.40" y="101.30" width="2.4" height="2.4"/>
<rect x="491.20" y="98.80" width="2.4" height="2.4"/>
<rect x="507.60" y="94.60" width="2.4" height="2.4"/>
<rect x="522.40" y="92.30" width="2.4" height="2.4"/>
<rect x="536.50" y="89.10" width="2.4" height="2.4"/>
<rect x="549.60" y="87.10" width="2.4" height="2.4"/>
<rect x="562.20" y="85.10" width="2.4" height="2.4"/>
<rect x="574.10" y="83.80" width="2.4" height="2.4"/>
<rect x="585.00" y="82.60" width="2.4" height="2.4"/>
<rect x="595.50" y="83.00" width="2.4" height="2.4"/>
<rect x="605.30" y="83.80" width="2.4" height="2.4"/>
<rect x="615.00" y="83.50" width="2.4" height="2.4"/>
<rect x="414.30" y="105.10" width="2.4" height="2.4"/>
<rect x="436.20" y="110.00" width="2.4" height="2.4"/>
<rect x="455.90" y="113.10" width="2.4" height="2.4"/>
<rect x="474.40" y="112.50" width="2.4" height="2.4"/>
<rect x="491.20" y="111.40" width="2.4" height="2.4"/>
<rect x="507.60" y="109.80" width="2.4" height="2.4"/>
<rect x="522.40" y="108.30" width="2.4" height="2.4"/>
<rect x="536.50" y="106.30" width="2.4" height="2.4"/>
<rect x="549.60" y="103.80" width="2.4" height="2.4"/>
<rect x="562.20" y="102.60" width="2.4" height="2.4"/>
<rect x="574.10" y="104.30" width="2.4" height="2.4"/>
<rect x="585.00" y="103.00" width="2.4" height="2.4"/>
<rect x="595.50" y="102.50" width="2.4" height="2.4"/>
<rect x="605.30" y="102.10" width="2.4" height="2.4"/>
<rect x="615.00" y="104.60" width="2.4" height="2.4"/>
<rect x="414.30" y="105.10" width="2.4" height="2.4"/>
<rect x="436.20" y="113.00" width="2.4" height="2.4"/>
<rect x="455.90" y="127.50" width="2.4" height="2.4"/>
<rect x="474.40" y="132.50" width="2.4" height="2.4"/>
<rect x="491.20" y="134.10" width="2.4" height="2.4"/>
<rect x="507.60" y="135.10" width="2.4" height="2.4"/>
<rect x="522.40" y="135.50" width="2.4" height="2.4"/>
<rect x="536.50" y="136.60" width="2.4" height="2.4"/>
<rect x="549.60" y="136.60" width="2.4" height="2.4"/>
<rect x="562.20" y="135.80" width="2.4" height="2.4"/>
<rect x="574.10" y="136.30" width="2.4" height="2.4"/>
<rect x="585.00" y="136.80" width="2.4" height="2.4"/>
<rect x="595.50" y="137.10" width="2.4" height="2.4"/>
<rect x="605.30" y="137.50" width="2.4" height="2.4"/>
<rect x="615.00" y="138.00" width="2.4" height="2.4"/>
<rect x="414.30" y="105.10" width="2.4" height="2.4"/>
<rect x="436.20" y="103.80" width="2.4" height="2.4"/>
<rect x="455.90" y="103.00" width="2.4" height="2.4"/>
<rect x="474.40" y="107.10" width="2.4" height="2.4"/>
<rect x="491.20" y="105.50" width="2.4" height="2.4"/>
<rect x="507.60" y="106.00" width="2.4" height="2.4"/>
<rect x="522.40" y="106.30" width="2.4" height="2.4"/>
<rect x="536.50" y="105.50" width="2.4" height="2.4"/>
<rect x="549.60" y="103.50" width="2.4" height="2.4"/>
<rect x="562.20" y="103.80" width="2.4" height="2.4"/>
<rect x="574.10" y="104.60" width="2.4" height="2.4"/>
<rect x="585.00" y="102.10" width="2.4" height="2.4"/>
<rect x="595.50" y="102.10" width="2.4" height="2.4"/>
<rect x="605.30" y="99.60" width="2.4" height="2.4"/>
<rect x="615.00" y="98.80" width="2.4" height="2.4"/>
<rect x="414.30" y="105.10" width="2.4" height="2.4"/>
<rect x="436.20" y="110.50" width="2.4" height="2.4"/>
<rect x="455.90" y="114.60" width="2.4" height="2.4"/>
<rect x="474.40" y="121.80" width="2.4" height="2.4"/>
<rect x="491.20" y="125.50" width="2.4" height="2.4"/>
<rect x="507.60" y="127.50" width="2.4" height="2.4"/>
<rect x="522.40" y="128.60" width="2.4" height="2.4"/>
<rect x="536.50" y="130.50" width="2.4" height="2.4"/>
<rect x="549.60" y="132.10" width="2.4" height="2.4"/>
<rect x="562.20" y="132.10" width="2.4" height="2.4"/>
<rect x="574.10" y="134.60" width="2.4" height="2.4"/>
<rect x="585.00" y="135.50" width="2.4" height="2.4"/>
<rect x="595.50" y="135.50" width="2.4" height="2.4"/>
<rect x="605.30" y="136.30" width="2.4" height="2.4"/>
<rect x="615.00" y="138.00" width="2.4" height="2.4"/>
<rect x="414.30" y="105.10" width="2.4" height="2.4"/>
<rect x="436.20" y="112.10" width="2.4" height="2.4"/>
<rect x="455.90" y="128.00" width="2.4" height="2.4"/>
<rect x="474.40" y="140.10" width="2.4" height="2.4"/>
<rect x="491.20" y="143.00" width="2.4" height="2.4"/>
<rect x="507.60" y="145.50" width="2.4" height="2.4"/>
<rect x="522.40" y="146.30" width="2.4" height="2.4"/>
<rect x="536.50" y="147.60" width="2.4" height="2.4"/>
<rect x="549.60" y="147.10" width="2.4" height="2.4"/>
<rect x="562.20" y="147.60" width="2.4" height="2.4"/>
<rect x="574.10" y="147.10" width="2.4" height="2.4"/>
<rect x="585.00" y="148.00" width="2.4" height="2.4"/>
<rect x="595.50" y="147.50" width="2.4" height="2.4"/>
<rect x="605.30" y="147.60" width="2.4" height="2.4"/>
<rect x="615.00" y="147.60" width="2.4" height="2.4"/>
</g>
<path d="M415.5 17.4V195.2H616.5" fill="none" stroke="#333" stroke-width="1"/>
<path d="M412.5 195.2H415.5 M414.0 177.4H415.5 M412.5 159.6H415.5 M414.0 141.9H415.5 M412.5 124.1H415.5 M414.0 106.3H415.5 M412.5 88.5H415.5 M414.0 70.7H415.5 M412.5 53.0H415.5 M414.0 35.2H415.5 M412.5 17.4H415.5 M415.5 195.2V198.2 M432.2 195.2V196.7 M449.0 195.2V198.2 M465.8 195.2V196.7 M482.5 195.2V198.2 M499.2 195.2V196.7 M516.0 195.2V198.2 M532.8 195.2V196.7 M549.5 195.2V198.2 M566.2 195.2V196.7 M583.0 195.2V198.2 M599.8 195.2V196.7 M616.5 195.2V198.2" stroke="#333" stroke-width="1"/>
<text transform="translate(410.2,199.8) scale(1,1)" text-anchor="end" font-size="15" font-family="Liberation Sans, sans-serif" fill="#111">0</text>
<text transform="translate(410.2,164.3) scale(1,1)" text-anchor="end" font-size="15" font-family="Liberation Sans, sans-serif" fill="#111">40</text>
<text transform="translate(410.2,128.7) scale(1,1)" text-anchor="end" font-size="15" font-family="Liberation Sans, sans-serif" fill="#111">80</text>
<text transform="translate(410.2,93.2) scale(1,1)" text-anchor="end" font-size="15" font-family="Liberation Sans, sans-serif" fill="#111">120</text>
<text transform="translate(410.2,57.6) scale(1,1)" text-anchor="end" font-size="15" font-family="Liberation Sans, sans-serif" fill="#111">160</text>
<text transform="translate(410.2,22.0) scale(1,1)" text-anchor="end" font-size="15" font-family="Liberation Sans, sans-serif" fill="#111">200</text>
<text transform="translate(415.5,212.8) scale(1,1)" text-anchor="middle" font-size="15" font-family="Liberation Sans, sans-serif" fill="#111">0</text>
<text transform="translate(449.0,212.8) scale(1,1)" text-anchor="middle" font-size="15" font-family="Liberation Sans, sans-serif" fill="#111">30</text>
<text transform="translate(482.5,212.8) scale(1,1)" text-anchor="middle" font-size="15" font-family="Liberation Sans, sans-serif" fill="#111">60</text>
<text transform="translate(516.0,212.8) scale(1,1)" text-anchor="middle" font-size="15" font-family="Liberation Sans, sans-serif" fill="#111">90</text>
<text transform="translate(549.5,212.8) scale(1,1)" text-anchor="middle" font-size="15" font-family="Liberation Sans, sans-serif" fill="#111">120</text>
<text transform="translate(583.0,212.8) scale(1,1)" text-anchor="middle" font-size="15" font-family="Liberation Sans, sans-serif" fill="#111">150</text>
<text transform="translate(616.5,212.8) scale(1,1)" text-anchor="middle" font-size="15" font-family="Liberation Sans, sans-serif" fill="#111">180</text>
<text x="522.8" y="228.8" text-anchor="middle" font-size="15" font-family="Liberation Sans, sans-serif" fill="#111">[Anion] (mM)</text>
<text transform="translate(377.6,102.8) rotate(-90)" text-anchor="middle" font-size="15" font-family="Liberation Sans, sans-serif" fill="#111">Fluorescence (a.u.)</text>
<path d="M625.3 13.5H651.8" stroke="#808080" stroke-width="1.6"/>
<rect x="637.35" y="12.30" width="2.4" height="2.4" fill="#6a6a78"/>
<text x="654.7" y="17.3" font-size="10.5" font-weight="bold" font-family="Liberation Sans, sans-serif" fill="#111">F<tspan font-size="7.5" dy="-4.4">-</tspan></text>
<path d="M625.3 28.6H651.8" stroke="#ffff00" stroke-width="1.6"/>
<rect x="637.35" y="27.40" width="2.4" height="2.4" fill="#6a6a78"/>
<text x="654.7" y="32.4" font-size="10.5" font-weight="bold" font-family="Liberation Sans, sans-serif" fill="#111">Cl<tspan font-size="7.5" dy="-4.4">-</tspan></text>
<path d="M625.3 43.8H651.8" stroke="#00ee00" stroke-width="1.6"/>
<rect x="637.35" y="42.60" width="2.4" height="2.4" fill="#6a6a78"/>
<text x="654.7" y="47.6" font-size="10.5" font-weight="bold" font-family="Liberation Sans, sans-serif" fill="#111">Br<tspan font-size="7.5" dy="-4.4">-</tspan></text>
<path d="M625.3 59.0H651.8" stroke="#0000ff" stroke-width="1.6"/>
<rect x="637.35" y="57.80" width="2.4" height="2.4" fill="#6a6a78"/>
<text x="654.7" y="62.8" font-size="10.5" font-weight="bold" font-family="Liberation Sans, sans-serif" fill="#111">I<tspan font-size="7.5" dy="-4.4">-</tspan></text>
<path d="M625.3 74.0H651.8" stroke="#00ffff" stroke-width="1.6"/>
<rect x="637.35" y="72.80" width="2.4" height="2.4" fill="#6a6a78"/>
<text x="654.7" y="77.8" font-size="10.5" font-weight="bold" font-family="Liberation Sans, sans-serif" fill="#111">NO<tspan font-size="7.5" dy="2.6">3</tspan><tspan font-size="7.5" dy="-7">-</tspan></text>
<path d="M625.3 91.7H651.8" stroke="#000000" stroke-width="1.6"/>
<rect x="637.35" y="90.50" width="2.4" height="2.4" fill="#6a6a78"/>
<text x="654.7" y="95.5" font-size="10.5" font-weight="bold" font-family="Liberation Sans, sans-serif" fill="#111">HCO<tspan font-size="7.5" dy="2.6">3</tspan><tspan font-size="7.5" dy="-7">-</tspan></text>
<path d="M625.3 109.2H651.8" stroke="#ff00ff" stroke-width="1.6"/>
<rect x="637.35" y="108.00" width="2.4" height="2.4" fill="#6a6a78"/>
<text x="654.7" y="113.0" font-size="10.5" font-weight="bold" font-family="Liberation Sans, sans-serif" fill="#111">SCN<tspan font-size="7.5" dy="-4.4">-</tspan></text>
<path d="M625.3 124.3H651.8" stroke="#ff0000" stroke-width="1.6"/>
<rect x="637.35" y="123.10" width="2.4" height="2.4" fill="#6a6a78"/>
<text x="654.7" y="128.1" font-size="10.5" font-weight="bold" font-family="Liberation Sans, sans-serif" fill="#111">SO<tspan font-size="7.5" dy="2.6">4</tspan><tspan font-size="7.5" dy="-7">2-</tspan></text>
<g stroke="#77778a" stroke-opacity="0.36" stroke-width="1" fill="none">
<path d="M77.4 346.0V349.6M75.6 346.0h3.6M75.6 349.6h3.6"/>
<path d="M97.1 346.2V350.4M95.3 346.2h3.6M95.3 350.4h3.6"/>
<path d="M115.6 344.1V348.9M113.8 344.1h3.6M113.8 348.9h3.6"/>
<path d="M132.4 342.7V347.9M130.6 342.7h3.6M130.6 347.9h3.6"/>
<path d="M148.8 340.4V346.2M147.0 340.4h3.6M147.0 346.2h3.6"/>
<path d="M163.6 340.1V346.5M161.8 340.1h3.6M161.8 346.5h3.6"/>
<path d="M177.7 338.1V345.1M175.9 338.1h3.6M175.9 345.1h3.6"/>
<path d="M190.8 339.0V346.6M189.0 339.0h3.6M189.0 346.6h3.6"/>
<path d="M203.4 338.4V346.6M201.6 338.4h3.6M201.6 346.6h3.6"/>
<path d="M215.3 337.9V346.7M213.5 337.9h3.6M213.5 346.7h3.6"/>
<path d="M226.2 337.0V346.2M224.4 337.0h3.6M224.4 346.2h3.6"/>
<path d="M236.7 337.4V347.2M234.9 337.4h3.6M234.9 347.2h3.6"/>
<path d="M246.5 335.1V345.5M244.7 335.1h3.6M244.7 345.5h3.6"/>
<path d="M256.2 335.3V346.3M254.4 335.3h3.6M254.4 346.3h3.6"/>
<path d="M77.4 330.3V346.3M75.6 330.3h3.6M75.6 346.3h3.6"/>
<path d="M97.1 313.3V341.3M95.3 313.3h3.6M95.3 341.3h3.6"/>
<path d="M115.6 301.5V337.5M113.8 301.5h3.6M113.8 337.5h3.6"/>
<path d="M132.4 292.1V336.1M130.6 292.1h3.6M130.6 336.1h3.6"/>
<path d="M148.8 286.6V334.6M147.0 286.6h3.6M147.0 334.6h3.6"/>
<path d="M163.6 282.3V330.3M161.8 282.3h3.6M161.8 330.3h3.6"/>
<path d="M177.7 281.9V325.3M175.9 281.9h3.6M175.9 325.3h3.6"/>
<path d="M190.8 282.1V324.5M189.0 282.1h3.6M189.0 324.5h3.6"/>
<path d="M203.4 284.6V323.6M201.6 284.6h3.6M201.6 323.6h3.6"/>
<path d="M215.3 280.2V317.0M213.5 280.2h3.6M213.5 317.0h3.6"/>
<path d="M226.2 281.1V314.5M224.4 281.1h3.6M224.4 314.5h3.6"/>
<path d="M236.7 281.6V310.6M234.9 281.6h3.6M234.9 310.6h3.6"/>
<path d="M246.5 281.6V309.0M244.7 281.6h3.6M244.7 309.0h3.6"/>
<path d="M256.2 284.0V306.6M254.4 284.0h3.6M254.4 306.6h3.6"/>
<path d="M77.4 320.8V353.2M75.6 320.8h3.6M75.6 353.2h3.6"/>
<path d="M97.1 293.6V345.4M95.3 293.6h3.6M95.3 345.4h3.6"/>
<path d="M115.6 283.6V339.4M113.8 283.6h3.6M113.8 339.4h3.6"/>
<path d="M132.4 278.3V331.3M130.6 278.3h3.6M130.6 331.3h3.6"/>
<path d="M148.8 276.3V324.9M147.0 276.3h3.6M147.0 324.9h3.6"/>
<path d="M163.6 275.6V317.0M161.8 275.6h3.6M161.8 317.0h3.6"/>
<path d="M177.7 273.6V309.4M175.9 273.6h3.6M175.9 309.4h3.6"/>
<path d="M190.8 276.1V305.1M189.0 276.1h3.6M189.0 305.1h3.6"/>
<path d="M203.4 276.6V301.6M201.6 276.6h3.6M201.6 301.6h3.6"/>
<path d="M215.3 276.1V299.5M213.5 276.1h3.6M213.5 299.5h3.6"/>
<path d="M226.2 275.8V303.8M224.4 275.8h3.6M224.4 303.8h3.6"/>
<path d="M236.7 277.8V300.2M234.9 277.8h3.6M234.9 300.2h3.6"/>
<path d="M246.5 277.8V300.4M244.7 277.8h3.6M244.7 300.4h3.6"/>
<path d="M256.2 278.6V303.0M254.4 278.6h3.6M254.4 303.0h3.6"/>
<path d="M77.4 346.0V349.6M75.6 346.0h3.6M75.6 349.6h3.6"/>
<path d="M97.1 341.5V345.7M95.3 341.5h3.6M95.3 345.7h3.6"/>
<path d="M115.6 339.9V344.7M113.8 339.9h3.6M113.8 344.7h3.6"/>
<path d="M132.4 338.9V344.1M130.6 338.9h3.6M130.6 344.1h3.6"/>
<path d="M148.8 342.1V347.9M147.0 342.1h3.6M147.0 347.9h3.6"/>
<path d="M163.6 341.3V347.7M161.8 341.3h3.6M161.8 347.7h3.6"/>
<path d="M177.7 341.8V348.8M175.9 341.8h3.6M175.9 348.8h3.6"/>
<path d="M190.8 343.5V351.1M189.0 343.5h3.6M189.0 351.1h3.6"/>
<path d="M203.4 343.2V351.4M201.6 343.2h3.6M201.6 351.4h3.6"/>
<path d="M215.3 342.1V350.9M213.5 342.1h3.6M213.5 350.9h3.6"/>
<path d="M226.2 342.7V351.9M224.4 342.7h3.6M224.4 351.9h3.6"/>
<path d="M236.7 342.4V352.2M234.9 342.4h3.6M234.9 352.2h3.6"/>
<path d="M246.5 342.1V352.5M244.7 342.1h3.6M244.7 352.5h3.6"/>
<path d="M256.2 341.8V352.8M254.4 341.8h3.6M254.4 352.8h3.6"/>
<path d="M77.4 349.6V383.6M75.6 349.6h3.6M75.6 383.6h3.6"/>
<path d="M97.1 369.8V385.8M95.3 369.8h3.6M95.3 385.8h3.6"/>
<path d="M115.6 376.3V388.3M113.8 376.3h3.6M113.8 388.3h3.6"/>
<path d="M132.4 379.5V389.5M130.6 379.5h3.6M130.6 389.5h3.6"/>
<path d="M148.8 381.0V389.0M147.0 381.0h3.6M147.0 389.0h3.6"/>
<path d="M163.6 381.6V389.6M161.8 381.6h3.6M161.8 389.6h3.6"/>
<path d="M177.7 382.1V389.1M175.9 382.1h3.6M175.9 389.1h3.6"/>
<path d="M190.8 383.0V390.0M189.0 383.0h3.6M189.0 390.0h3.6"/>
<path d="M203.4 384.3V390.3M201.6 384.3h3.6M201.6 390.3h3.6"/>
<path d="M215.3 384.8V390.8M213.5 384.8h3.6M213.5 390.8h3.6"/>
<path d="M226.2 385.8V391.8M224.4 385.8h3.6M224.4 391.8h3.6"/>
<path d="M236.7 385.8V391.8M234.9 385.8h3.6M234.9 391.8h3.6"/>
<path d="M246.5 385.8V391.8M244.7 385.8h3.6M244.7 391.8h3.6"/>
<path d="M256.2 386.9V392.9M254.4 386.9h3.6M254.4 392.9h3.6"/>
<path d="M77.4 346.8V348.8M75.6 346.8h3.6M75.6 348.8h3.6"/>
<path d="M97.1 354.1V357.1M95.3 354.1h3.6M95.3 357.1h3.6"/>
<path d="M115.6 362.1V365.1M113.8 362.1h3.6M113.8 365.1h3.6"/>
<path d="M132.4 365.1V368.1M130.6 365.1h3.6M130.6 368.1h3.6"/>
<path d="M148.8 366.8V369.8M147.0 366.8h3.6M147.0 369.8h3.6"/>
<path d="M163.6 368.0V371.0M161.8 368.0h3.6M161.8 371.0h3.6"/>
<path d="M177.7 368.3V371.3M175.9 368.3h3.6M175.9 371.3h3.6"/>
<path d="M190.8 368.8V371.8M189.0 368.8h3.6M189.0 371.8h3.6"/>
<path d="M203.4 369.6V372.6M201.6 369.6h3.6M201.6 372.6h3.6"/>
<path d="M215.3 369.1V372.1M213.5 369.1h3.6M213.5 372.1h3.6"/>
<path d="M226.2 367.1V370.1M224.4 367.1h3.6M224.4 370.1h3.6"/>
<path d="M236.7 365.5V368.5M234.9 365.5h3.6M234.9 368.5h3.6"/>
<path d="M246.5 365.5V368.5M244.7 365.5h3.6M244.7 368.5h3.6"/>
<path d="M256.2 365.5V368.5M254.4 365.5h3.6M254.4 368.5h3.6"/>
<path d="M77.4 356.6V384.0M75.6 356.6h3.6M75.6 384.0h3.6"/>
<path d="M97.1 370.3V406.3M95.3 370.3h3.6M95.3 406.3h3.6"/>
<path d="M115.6 383.8V411.8M113.8 383.8h3.6M113.8 411.8h3.6"/>
<path d="M132.4 391.6V415.6M130.6 391.6h3.6M130.6 415.6h3.6"/>
<path d="M148.8 398.3V418.3M147.0 398.3h3.6M147.0 418.3h3.6"/>
<path d="M163.6 400.6V420.6M161.8 400.6h3.6M161.8 420.6h3.6"/>
<path d="M177.7 402.9V422.9M175.9 402.9h3.6M175.9 422.9h3.6"/>
<path d="M190.8 402.6V426.6M189.0 402.6h3.6M189.0 426.6h3.6"/>
<path d="M203.4 403.7V427.7M201.6 403.7h3.6M201.6 427.7h3.6"/>
<path d="M215.3 405.3V429.3M213.5 405.3h3.6M213.5 429.3h3.6"/>
<path d="M226.2 406.8V430.8M224.4 406.8h3.6M224.4 430.8h3.6"/>
<path d="M236.7 407.6V431.6M234.9 407.6h3.6M234.9 431.6h3.6"/>
<path d="M246.5 409.1V433.1M244.7 409.1h3.6M244.7 433.1h3.6"/>
<path d="M256.2 412.8V432.8M254.4 412.8h3.6M254.4 432.8h3.6"/>
<path d="M77.4 349.8V369.8M75.6 349.8h3.6M75.6 369.8h3.6"/>
<path d="M97.1 369.6V397.6M95.3 369.6h3.6M95.3 397.6h3.6"/>
<path d="M115.6 379.8V415.8M113.8 379.8h3.6M113.8 415.8h3.6"/>
<path d="M132.4 385.0V425.0M130.6 385.0h3.6M130.6 425.0h3.6"/>
<path d="M148.8 388.6V428.6M147.0 388.6h3.6M147.0 428.6h3.6"/>
<path d="M163.6 390.6V430.6M161.8 390.6h3.6M161.8 430.6h3.6"/>
<path d="M177.7 391.8V431.8M175.9 391.8h3.6M175.9 431.8h3.6"/>
<path d="M190.8 393.6V431.6M189.0 393.6h3.6M189.0 431.6h3.6"/>
<path d="M203.4 393.8V431.8M201.6 393.8h3.6M201.6 431.8h3.6"/>
<path d="M215.3 395.2V432.8M213.5 395.2h3.6M213.5 432.8h3.6"/>
<path d="M226.2 396.2V432.8M224.4 396.2h3.6M224.4 432.8h3.6"/>
<path d="M236.7 396.2V432.8M234.9 396.2h3.6M234.9 432.8h3.6"/>
<path d="M246.5 396.2V432.8M244.7 396.2h3.6M244.7 432.8h3.6"/>
<path d="M256.2 396.7V432.7M254.4 396.7h3.6M254.4 432.7h3.6"/>
</g>
<polyline points="55.5,347.6 77.4,337.0 97.1,319.5 115.6,311.5 132.4,304.8 148.8,300.6 163.6,296.3 177.7,291.5 190.8,290.6 203.4,289.1 215.3,287.8 226.2,289.8 236.7,289.0 246.5,289.1 256.2,290.8" fill="none" stroke="#00ee00" stroke-width="2" stroke-linejoin="round"/>
<polyline points="55.5,347.6 77.4,347.8 97.1,348.3 115.6,346.5 132.4,345.3 148.8,343.3 163.6,343.3 177.7,341.6 190.8,342.8 203.4,342.5 215.3,342.3 226.2,341.6 236.7,342.3 246.5,340.3 256.2,340.8" fill="none" stroke="#808080" stroke-width="2" stroke-linejoin="round"/>
<polyline points="55.5,347.6 77.4,338.3 97.1,327.3 115.6,319.5 132.4,314.1 148.8,310.6 163.6,306.3 177.7,303.6 190.8,303.3 203.4,304.1 215.3,298.6 226.2,297.8 236.7,296.1 246.5,295.3 256.2,295.3" fill="none" stroke="#ffff00" stroke-width="2" stroke-linejoin="round"/>
<polyline points="55.5,347.6 77.4,347.8 97.1,343.6 115.6,342.3 132.4,341.5 148.8,345.0 163.6,344.5 177.7,345.3 190.8,347.3 203.4,347.3 215.3,346.5 226.2,347.3 236.7,347.3 246.5,347.3 256.2,347.3" fill="none" stroke="#0000ff" stroke-width="2" stroke-linejoin="round"/>
<polyline points="55.5,347.6 77.4,366.6 97.1,377.8 115.6,382.3 132.4,384.5 148.8,385.0 163.6,385.6 177.7,385.6 190.8,386.5 203.4,387.3 215.3,387.8 226.2,388.8 236.7,388.8 246.5,388.8 256.2,389.9" fill="none" stroke="#00ffff" stroke-width="2" stroke-linejoin="round"/>
<polyline points="55.5,347.6 77.4,347.8 97.1,355.6 115.6,363.6 132.4,366.6 148.8,368.3 163.6,369.5 177.7,369.8 190.8,370.3 203.4,371.1 215.3,370.6 226.2,368.6 236.7,367.0 246.5,367.0 256.2,367.0" fill="none" stroke="#000000" stroke-width="2" stroke-linejoin="round"/>
<polyline points="55.5,347.6 77.4,370.3 97.1,388.3 115.6,397.8 132.4,403.6 148.8,408.3 163.6,410.6 177.7,412.9 190.8,414.6 203.4,415.7 215.3,417.3 226.2,418.8 236.7,419.6 246.5,421.1 256.2,422.8" fill="none" stroke="#ff00ff" stroke-width="2" stroke-linejoin="round"/>
<polyline points="55.5,347.6 77.4,359.8 97.1,383.6 115.6,397.8 132.4,405.0 148.8,408.6 163.6,410.6 177.7,411.8 190.8,412.6 203.4,412.8 215.3,414.0 226.2,414.5 236.7,414.5 246.5,414.5 256.2,414.7" fill="none" stroke="#ff0000" stroke-width="2" stroke-linejoin="round"/>
<g fill="#000000">
<rect x="54.05" y="346.15" width="2.9" height="2.9"/>
<rect x="75.95" y="346.35" width="2.9" height="2.9"/>
<rect x="95.65" y="346.85" width="2.9" height="2.9"/>
<rect x="114.15" y="345.05" width="2.9" height="2.9"/>
<rect x="130.95" y="343.85" width="2.9" height="2.9"/>
<rect x="147.35" y="341.85" width="2.9" height="2.9"/>
<rect x="162.15" y="341.85" width="2.9" height="2.9"/>
<rect x="176.25" y="340.15" width="2.9" height="2.9"/>
<rect x="189.35" y="341.35" width="2.9" height="2.9"/>
<rect x="201.95" y="341.05" width="2.9" height="2.9"/>
<rect x="213.85" y="340.85" width="2.9" height="2.9"/>
<rect x="224.75" y="340.15" width="2.9" height="2.9"/>
<rect x="235.25" y="340.85" width="2.9" height="2.9"/>
<rect x="245.05" y="338.85" width="2.9" height="2.9"/>
<rect x="254.75" y="339.35" width="2.9" height="2.9"/>
<rect x="54.05" y="346.15" width="2.9" height="2.9"/>
<rect x="75.95" y="336.85" width="2.9" height="2.9"/>
<rect x="95.65" y="325.85" width="2.9" height="2.9"/>
<rect x="114.15" y="318.05" width="2.9" height="2.9"/>
<rect x="130.95" y="312.65" width="2.9" height="2.9"/>
<rect x="147.35" y="309.15" width="2.9" height="2.9"/>
<rect x="162.15" y="304.85" width="2.9" height="2.9"/>
<rect x="176.25" y="302.15" width="2.9" height="2.9"/>
<rect x="189.35" y="301.85" width="2.9" height="2.9"/>
<rect x="201.95" y="302.65" width="2.9" height="2.9"/>
<rect x="213.85" y="297.15" width="2.9" height="2.9"/>
<rect x="224.75" y="296.35" width="2.9" height="2.9"/>
<rect x="235.25" y="294.65" width="2.9" height="2.9"/>
<rect x="245.05" y="293.85" width="2.9" height="2.9"/>
<rect x="254.75" y="293.85" width="2.9" height="2.9"/>
<rect x="54.05" y="346.15" width="2.9" height="2.9"/>
<rect x="75.95" y="335.55" width="2.9" height="2.9"/>
<rect x="95.65" y="318.05" width="2.9" height="2.9"/>
<rect x="114.15" y="310.05" width="2.9" height="2.9"/>
<rect x="130.95" y="303.35" width="2.9" height="2.9"/>
<rect x="147.35" y="299.15" width="2.9" height="2.9"/>
<rect x="162.15" y="294.85" width="2.9" height="2.9"/>
<rect x="176.25" y="290.05" width="2.9" height="2.9"/>
<rect x="189.35" y="289.15" width="2.9" height="2.9"/>
<rect x="201.95" y="287.65" width="2.9" height="2.9"/>
<rect x="213.85" y="286.35" width="2.9" height="2.9"/>
<rect x="224.75" y="288.35" width="2.9" height="2.9"/>
<rect x="235.25" y="287.55" width="2.9" height="2.9"/>
<rect x="245.05" y="287.65" width="2.9" height="2.9"/>
<rect x="254.75" y="289.35" width="2.9" height="2.9"/>
<rect x="54.05" y="346.15" width="2.9" height="2.9"/>
<rect x="75.95" y="346.35" width="2.9" height="2.9"/>
<rect x="95.65" y="342.15" width="2.9" height="2.9"/>
<rect x="114.15" y="340.85" width="2.9" height="2.9"/>
<rect x="130.95" y="340.05" width="2.9" height="2.9"/>
<rect x="147.35" y="343.55" width="2.9" height="2.9"/>
<rect x="162.15" y="343.05" width="2.9" height="2.9"/>
<rect x="176.25" y="343.85" width="2.9" height="2.9"/>
<rect x="189.35" y="345.85" width="2.9" height="2.9"/>
<rect x="201.95" y="345.85" width="2.9" height="2.9"/>
<rect x="213.85" y="345.05" width="2.9" height="2.9"/>
<rect x="224.75" y="345.85" width="2.9" height="2.9"/>
<rect x="235.25" y="345.85" width="2.9" height="2.9"/>
<rect x="245.05" y="345.85" width="2.9" height="2.9"/>
<rect x="254.75" y="345.85" width="2.9" height="2.9"/>
<rect x="54.05" y="346.15" width="2.9" height="2.9"/>
<rect x="75.95" y="365.15" width="2.9" height="2.9"/>
<rect x="95.65" y="376.35" width="2.9" height="2.9"/>
<rect x="114.15" y="380.85" width="2.9" height="2.9"/>
<rect x="130.95" y="383.05" width="2.9" height="2.9"/>
<rect x="147.35" y="383.55" width="2.9" height="2.9"/>
<rect x="162.15" y="384.15" width="2.9" height="2.9"/>
<rect x="176.25" y="384.15" width="2.9" height="2.9"/>
<rect x="189.35" y="385.05" width="2.9" height="2.9"/>
<rect x="201.95" y="385.85" width="2.9" height="2.9"/>
<rect x="213.85" y="386.35" width="2.9" height="2.9"/>
<rect x="224.75" y="387.35" width="2.9" height="2.9"/>
<rect x="235.25" y="387.35" width="2.9" height="2.9"/>
<rect x="245.05" y="387.35" width="2.9" height="2.9"/>
<rect x="254.75" y="388.45" width="2.9" height="2.9"/>
<rect x="54.05" y="346.15" width="2.9" height="2.9"/>
<rect x="75.95" y="346.35" width="2.9" height="2.9"/>
<rect x="95.65" y="354.15" width="2.9" height="2.9"/>
<rect x="114.15" y="362.15" width="2.9" height="2.9"/>
<rect x="130.95" y="365.15" width="2.9" height="2.9"/>
<rect x="147.35" y="366.85" width="2.9" height="2.9"/>
<rect x="162.15" y="368.05" width="2.9" height="2.9"/>
<rect x="176.25" y="368.35" width="2.9" height="2.9"/>
<rect x="189.35" y="368.85" width="2.9" height="2.9"/>
<rect x="201.95" y="369.65" width="2.9" height="2.9"/>
<rect x="213.85" y="369.15" width="2.9" height="2.9"/>
<rect x="224.75" y="367.15" width="2.9" height="2.9"/>
<rect x="235.25" y="365.55" width="2.9" height="2.9"/>
<rect x="245.05" y="365.55" width="2.9" height="2.9"/>
<rect x="254.75" y="365.55" width="2.9" height="2.9"/>
<rect x="54.05" y="346.15" width="2.9" height="2.9"/>
<rect x="75.95" y="368.85" width="2.9" height="2.9"/>
<rect x="95.65" y="386.85" width="2.9" height="2.9"/>
<rect x="114.15" y="396.35" width="2.9" height="2.9"/>
<rect x="130.95" y="402.15" width="2.9" height="2.9"/>
<rect x="147.35" y="406.85" width="2.9" height="2.9"/>
<rect x="162.15" y="409.15" width="2.9" height="2.9"/>
<rect x="176.25" y="411.45" width="2.9" height="2.9"/>
<rect x="189.35" y="413.15" width="2.9" height="2.9"/>
<rect x="201.95" y="414.25" width="2.9" height="2.9"/>
<rect x="213.85" y="415.85" width="2.9" height="2.9"/>
<rect x="224.75" y="417.35" width="2.9" height="2.9"/>
<rect x="235.25" y="418.15" width="2.9" height="2.9"/>
<rect x="245.05" y="419.65" width="2.9" height="2.9"/>
<rect x="254.75" y="421.35" width="2.9" height="2.9"/>
<rect x="54.05" y="346.15" width="2.9" height="2.9"/>
<rect x="75.95" y="358.35" width="2.9" height="2.9"/>
<rect x="95.65" y="382.15" width="2.9" height="2.9"/>
<rect x="114.15" y="396.35" width="2.9" height="2.9"/>
<rect x="130.95" y="403.55" width="2.9" height="2.9"/>
<rect x="147.35" y="407.15" width="2.9" height="2.9"/>
<rect x="162.15" y="409.15" width="2.9" height="2.9"/>
<rect x="176.25" y="410.35" width="2.9" height="2.9"/>
<rect x="189.35" y="411.15" width="2.9" height="2.9"/>
<rect x="201.95" y="411.35" width="2.9" height="2.9"/>
<rect x="213.85" y="412.55" width="2.9" height="2.9"/>
<rect x="224.75" y="413.05" width="2.9" height="2.9"/>
<rect x="235.25" y="413.05" width="2.9" height="2.9"/>
<rect x="245.05" y="413.05" width="2.9" height="2.9"/>
<rect x="254.75" y="413.25" width="2.9" height="2.9"/>
</g>
<path d="M55.5 258.4V436.2H256.5" fill="none" stroke="#333" stroke-width="1"/>
<path d="M52.5 436.2H55.5 M54.0 418.4H55.5 M52.5 400.6H55.5 M54.0 382.9H55.5 M52.5 365.1H55.5 M54.0 347.3H55.5 M52.5 329.5H55.5 M54.0 311.7H55.5 M52.5 294.0H55.5 M54.0 276.2H55.5 M52.5 258.4H55.5 M55.5 436.2V439.2 M72.2 436.2V437.7 M89.0 436.2V439.2 M105.8 436.2V437.7 M122.5 436.2V439.2 M139.2 436.2V437.7 M156.0 436.2V439.2 M172.8 436.2V437.7 M189.5 436.2V439.2 M206.2 436.2V437.7 M223.0 436.2V439.2 M239.8 436.2V437.7 M256.5 436.2V439.2" stroke="#333" stroke-width="1"/>
<text transform="translate(50.2,440.8) scale(1,1)" text-anchor="end" font-size="15" font-family="Liberation Sans, sans-serif" fill="#111">0</text>
<text transform="translate(50.2,405.3) scale(1,1)" text-anchor="end" font-size="15" font-family="Liberation Sans, sans-serif" fill="#111">40</text>
<text transform="translate(50.2,369.7) scale(1,1)" text-anchor="end" font-size="15" font-family="Liberation Sans, sans-serif" fill="#111">80</text>
<text transform="translate(50.2,334.2) scale(1,1)" text-anchor="end" font-size="15" font-family="Liberation Sans, sans-serif" fill="#111">120</text>
<text transform="translate(50.2,298.6) scale(1,1)" text-anchor="end" font-size="15" font-family="Liberation Sans, sans-serif" fill="#111">160</text>
<text transform="translate(50.2,263.0) scale(1,1)" text-anchor="end" font-size="15" font-family="Liberation Sans, sans-serif" fill="#111">200</text>
<text transform="translate(55.5,453.8) scale(1,1)" text-anchor="middle" font-size="15" font-family="Liberation Sans, sans-serif" fill="#111">0</text>
<text transform="translate(89.0,453.8) scale(1,1)" text-anchor="middle" font-size="15" font-family="Liberation Sans, sans-serif" fill="#111">30</text>
<text transform="translate(122.5,453.8) scale(1,1)" text-anchor="middle" font-size="15" font-family="Liberation Sans, sans-serif" fill="#111">60</text>
<text transform="translate(156.0,453.8) scale(1,1)" text-anchor="middle" font-size="15" font-family="Liberation Sans, sans-serif" fill="#111">90</text>
<text transform="translate(189.5,453.8) scale(1,1)" text-anchor="middle" font-size="15" font-family="Liberation Sans, sans-serif" fill="#111">120</text>
<text transform="translate(223.0,453.8) scale(1,1)" text-anchor="middle" font-size="15" font-family="Liberation Sans, sans-serif" fill="#111">150</text>
<text transform="translate(256.5,453.8) scale(1,1)" text-anchor="middle" font-size="15" font-family="Liberation Sans, sans-serif" fill="#111">180</text>
<text x="162.8" y="469.8" text-anchor="middle" font-size="15" font-family="Liberation Sans, sans-serif" fill="#111">[Anion] (mM)</text>
<text transform="translate(17.6,343.8) rotate(-90)" text-anchor="middle" font-size="15" font-family="Liberation Sans, sans-serif" fill="#111">Fluorescence (a.u.)</text>
<path d="M265.2 258.3H289.8" stroke="#808080" stroke-width="1.3"/>
<rect x="276.10" y="256.90" width="2.8" height="2.8" fill="#000000"/>
<text x="292.9" y="262.1" font-size="10.5" font-weight="bold" font-family="Liberation Sans, sans-serif" fill="#111">F<tspan font-size="7.5" dy="-4.4">-</tspan></text>
<path d="M265.2 273.4H289.8" stroke="#ffff00" stroke-width="1.3"/>
<rect x="276.10" y="272.00" width="2.8" height="2.8" fill="#000000"/>
<text x="290.2" y="277.2" font-size="10.5" font-weight="bold" font-family="Liberation Sans, sans-serif" fill="#111">Cl<tspan font-size="7.5" dy="-4.4">-</tspan></text>
<path d="M265.2 288.6H289.8" stroke="#00ee00" stroke-width="1.3"/>
<rect x="276.10" y="287.20" width="2.8" height="2.8" fill="#000000"/>
<text x="292.9" y="292.4" font-size="10.5" font-weight="bold" font-family="Liberation Sans, sans-serif" fill="#111">Br<tspan font-size="7.5" dy="-4.4">-</tspan></text>
<path d="M265.2 303.8H289.8" stroke="#0000ff" stroke-width="1.3"/>
<rect x="276.10" y="302.40" width="2.8" height="2.8" fill="#000000"/>
<text x="292.9" y="307.6" font-size="10.5" font-weight="bold" font-family="Liberation Sans, sans-serif" fill="#111">I<tspan font-size="7.5" dy="-4.4">-</tspan></text>
<path d="M265.2 318.8H289.8" stroke="#00ffff" stroke-width="1.3"/>
<rect x="276.10" y="317.40" width="2.8" height="2.8" fill="#000000"/>
<text x="292.9" y="322.6" font-size="10.5" font-weight="bold" font-family="Liberation Sans, sans-serif" fill="#111">NO<tspan font-size="7.5" dy="2.6">3</tspan><tspan font-size="7.5" dy="-7">-</tspan></text>
<path d="M265.2 336.5H289.8" stroke="#000000" stroke-width="1.3"/>
<rect x="276.10" y="335.10" width="2.8" height="2.8" fill="#000000"/>
<text x="292.9" y="340.3" font-size="10.5" font-weight="bold" font-family="Liberation Sans, sans-serif" fill="#111">HCO<tspan font-size="7.5" dy="2.6">3</tspan><tspan font-size="7.5" dy="-7">-</tspan></text>
<path d="M265.2 354.0H289.8" stroke="#ff00ff" stroke-width="1.3"/>
<rect x="276.10" y="352.60" width="2.8" height="2.8" fill="#000000"/>
<text x="292.9" y="357.8" font-size="10.5" font-weight="bold" font-family="Liberation Sans, sans-serif" fill="#111">SCN<tspan font-size="7.5" dy="-4.4">-</tspan></text>
<path d="M265.2 369.1H289.8" stroke="#ff0000" stroke-width="1.3"/>
<rect x="276.10" y="367.70" width="2.8" height="2.8" fill="#000000"/>
<text x="292.9" y="372.9" font-size="10.5" font-weight="bold" font-family="Liberation Sans, sans-serif" fill="#111">SO<tspan font-size="7.5" dy="2.6">4</tspan><tspan font-size="7.5" dy="-7">2-</tspan></text>
<rect x="418.00" y="298.80" width="6.90" height="136.50" fill="#c3c3c3" stroke="#7a7a7a" stroke-width="0.8"/>
<rect x="424.90" y="272.80" width="6.90" height="162.50" fill="#878787" stroke="#5a5a5a" stroke-width="0.8"/>
<rect x="431.80" y="333.25" width="6.90" height="102.05" fill="#4b4c4e" stroke="#2a2a2a" stroke-width="0.8"/>
<rect x="443.30" y="298.80" width="6.90" height="136.50" fill="#c3c3c3" stroke="#7a7a7a" stroke-width="0.8"/>
<rect x="450.20" y="319.60" width="6.90" height="115.70" fill="#878787" stroke="#5a5a5a" stroke-width="0.8"/>
<rect x="457.10" y="370.30" width="6.90" height="65.00" fill="#4b4c4e" stroke="#2a2a2a" stroke-width="0.8"/>
<rect x="468.60" y="328.05" width="6.90" height="107.25" fill="#c3c3c3" stroke="#7a7a7a" stroke-width="0.8"/>
<rect x="475.50" y="318.30" width="6.90" height="117.00" fill="#878787" stroke="#5a5a5a" stroke-width="0.8"/>
<rect x="482.40" y="379.40" width="6.90" height="55.90" fill="#4b4c4e" stroke="#2a2a2a" stroke-width="0.8"/>
<rect x="493.90" y="328.05" width="6.90" height="107.25" fill="#c3c3c3" stroke="#7a7a7a" stroke-width="0.8"/>
<rect x="519.20" y="269.16" width="6.90" height="166.14" fill="#c3c3c3" stroke="#7a7a7a" stroke-width="0.8"/>
<rect x="526.10" y="396.95" width="6.90" height="38.35" fill="#878787" stroke="#5a5a5a" stroke-width="0.8"/>
<rect x="533.00" y="406.70" width="6.90" height="28.60" fill="#4b4c4e" stroke="#2a2a2a" stroke-width="0.8"/>
<rect x="544.50" y="351.84" width="6.90" height="83.46" fill="#c3c3c3" stroke="#7a7a7a" stroke-width="0.8"/>
<rect x="558.30" y="377.32" width="6.90" height="57.98" fill="#4b4c4e" stroke="#2a2a2a" stroke-width="0.8"/>
<rect x="569.80" y="305.95" width="6.90" height="129.35" fill="#c3c3c3" stroke="#7a7a7a" stroke-width="0.8"/>
<rect x="576.70" y="363.15" width="6.90" height="72.15" fill="#878787" stroke="#5a5a5a" stroke-width="0.8"/>
<rect x="583.60" y="390.19" width="6.90" height="45.11" fill="#4b4c4e" stroke="#2a2a2a" stroke-width="0.8"/>
<rect x="595.10" y="328.70" width="6.90" height="106.60" fill="#c3c3c3" stroke="#7a7a7a" stroke-width="0.8"/>
<rect x="602.00" y="389.15" width="6.90" height="46.15" fill="#878787" stroke="#5a5a5a" stroke-width="0.8"/>
<rect x="608.90" y="387.46" width="6.90" height="47.84" fill="#4b4c4e" stroke="#2a2a2a" stroke-width="0.8"/>
<path d="M415.5 253.4V435.3H618.6" fill="none" stroke="#333" stroke-width="1"/>
<path d="M412.5 435.3H415.5 M414.0 415.8H415.5 M412.5 396.3H415.5 M414.0 376.8H415.5 M412.5 357.3H415.5 M414.0 337.8H415.5 M412.5 318.3H415.5 M414.0 298.8H415.5 M412.5 279.3H415.5 M414.0 259.8H415.5" stroke="#333" stroke-width="1"/>
<text transform="translate(410.8,439.9) scale(0.88,1)" text-anchor="end" font-size="15" font-family="Liberation Sans, sans-serif" fill="#111">0</text>
<text transform="translate(410.8,400.9) scale(0.88,1)" text-anchor="end" font-size="15" font-family="Liberation Sans, sans-serif" fill="#111">30</text>
<text transform="translate(410.8,361.9) scale(0.88,1)" text-anchor="end" font-size="15" font-family="Liberation Sans, sans-serif" fill="#111">60</text>
<text transform="translate(410.8,322.9) scale(0.88,1)" text-anchor="end" font-size="15" font-family="Liberation Sans, sans-serif" fill="#111">90</text>
<text transform="translate(410.8,283.9) scale(0.88,1)" text-anchor="end" font-size="15" font-family="Liberation Sans, sans-serif" fill="#111">120</text>
<text transform="translate(386.5,339.0) scale(0.84,1) rotate(-90)" text-anchor="middle" font-size="17.5" font-family="Liberation Sans, sans-serif" fill="#111">K<tspan font-size="11.5" dy="4">d</tspan><tspan dy="-4"> (mM)</tspan></text>
<rect x="540.9" y="246.4" width="20" height="11" fill="#c3c3c3" stroke="#7a7a7a" stroke-width="0.9"/>
<text transform="translate(563.6,255.8) scale(0.9,1)" font-size="10" font-family="Liberation Sans, sans-serif" fill="#111">mNeonGreen</text>
<rect x="540.9" y="259.4" width="20" height="11" fill="#878787" stroke="#5a5a5a" stroke-width="0.9"/>
<text transform="translate(563.6,268.8) scale(0.9,1)" font-size="10" font-family="Liberation Sans, sans-serif" fill="#111">mNG-C149Y/W167Y</text>
<rect x="540.9" y="272.4" width="20" height="11" fill="#4b4c4e" stroke="#2a2a2a" stroke-width="0.9"/>
<text transform="translate(563.6,281.8) scale(0.9,1)" font-size="10" font-family="Liberation Sans, sans-serif" fill="#111">Thyone</text>
<text transform="translate(436.90,448.60) scale(0.88,1) rotate(-45)" text-anchor="end" font-size="14.5" font-family="Liberation Sans, sans-serif" fill="#111">F<tspan font-size="10.15" dy="-6">-</tspan></text>
<text transform="translate(464.00,448.60) scale(0.88,1) rotate(-45)" text-anchor="end" font-size="14.5" font-family="Liberation Sans, sans-serif" fill="#111">Cl<tspan font-size="10.15" dy="-6">-</tspan></text>
<text transform="translate(490.30,448.60) scale(0.88,1) rotate(-45)" text-anchor="end" font-size="14.5" font-family="Liberation Sans, sans-serif" fill="#111">Br<tspan font-size="10.15" dy="-6">-</tspan></text>
<text transform="translate(512.00,448.60) scale(0.88,1) rotate(-45)" text-anchor="end" font-size="14.5" font-family="Liberation Sans, sans-serif" fill="#111">I<tspan font-size="10.15" dy="-6">-</tspan></text>
<text transform="translate(543.10,446.80) scale(0.88,1) rotate(-45)" text-anchor="end" font-size="14.5" font-family="Liberation Sans, sans-serif" fill="#111">NO<tspan font-size="10.15" dy="3">3</tspan><tspan font-size="10.15" dy="-9">-</tspan></text>
<text transform="translate(572.00,447.70) scale(0.88,1) rotate(-45)" text-anchor="end" font-size="14.5" font-family="Liberation Sans, sans-serif" fill="#111">HCO<tspan font-size="10.15" dy="3">3</tspan><tspan font-size="10.15" dy="-9">-</tspan></text>
<text transform="translate(595.00,448.40) scale(0.88,1) rotate(-45)" text-anchor="end" font-size="14.5" font-family="Liberation Sans, sans-serif" fill="#111">SCN<tspan font-size="10.15" dy="-6">-</tspan></text>
<text transform="translate(621.00,447.30) scale(0.88,1) rotate(-45)" text-anchor="end" font-size="14.5" font-family="Liberation Sans, sans-serif" fill="#111">SO<tspan font-size="10.15" dy="3">4</tspan><tspan font-size="10.15" dy="-9">2-</tspan></text>
</svg></body></html>
